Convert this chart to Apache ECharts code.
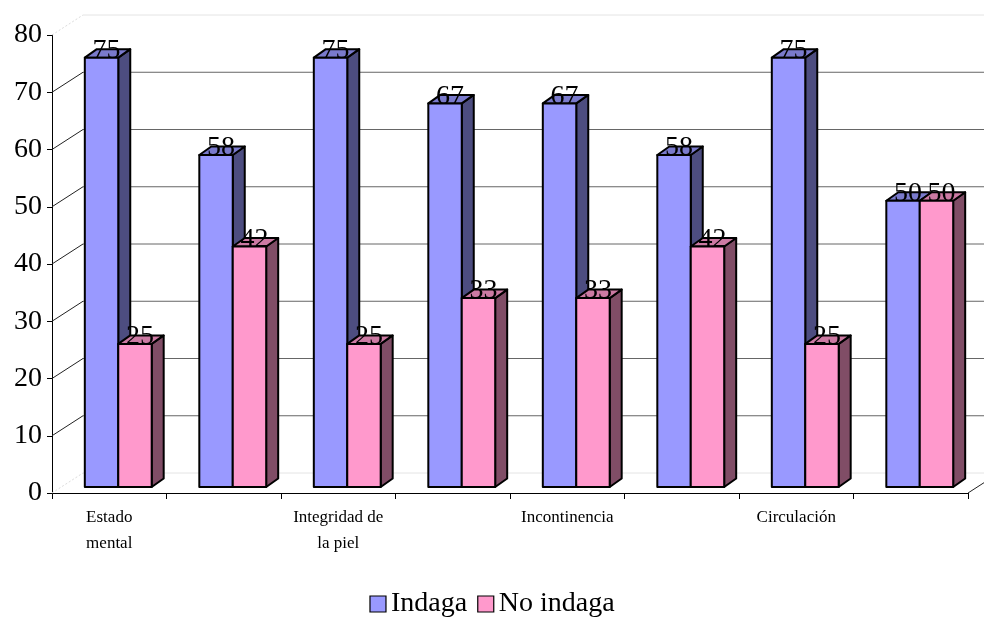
<!DOCTYPE html>
<html>
<head>
<meta charset="utf-8">
<script src="https://cdn.jsdelivr.net/npm/echarts@6/dist/echarts.min.js"></script>
<style>
  html, body { margin: 0; padding: 0; background: #fff; }
  #chart { width: 984px; height: 623px; }
</style>
</head>
<body>
<div id="chart"></div>
<script>
// Categories along the floor (only every other one carries a printed name)
const categories = ['Estado\nmental', '', 'Integridad de\nla piel', '', 'Incontinencia', '', 'Circulación', ''];
const seriesNames = ['Indaga', 'No indaga'];
const indagaValues = [75, 58, 75, 67, 67, 58, 75, 50];
const noIndagaValues = [25, 42, 25, 33, 33, 42, 25, 50];
const yTicks = [0, 10, 20, 30, 40, 50, 60, 70, 80];

const FONT = '"Liberation Serif", "Times New Roman", serif';
const WALL_DX = 31, WALL_DY = -20;    // offset of the back wall from the front plane
const PLANE_DX = 9, PLANE_DY = -6;     // offset of the bar row from the front plane
const DEPTH_DX = 12, DEPTH_DY = -8.5;  // bar depth

const faceColors = [
  { front: '#9999FF', side: '#4D4D80', top: '#7A7ACC' },
  { front: '#FF99CC', side: '#804D66', top: '#CC7AA3' }
];

function wallRender(params, api) {
  const v = api.value(1);
  const cs = params.coordSys;
  const p = api.coord([0, v]);
  const x0 = cs.x, y = p[1];
  const xb = x0 + WALL_DX, yb = y + WALL_DY;
  const faint = (v === 0 || v === yTicks[yTicks.length - 1]);
  const col = faint ? '#e4e4e4' : '#666';
  const children = [
    { type: 'line', shape: { x1: x0, y1: y, x2: xb, y2: yb },
      style: { stroke: faint ? '#dcdcdc' : '#222', lineWidth: 1, lineDash: faint ? [2, 2] : null } },
    { type: 'line', shape: { x1: xb, y1: yb, x2: xb + cs.width + 40, y2: yb },
      style: { stroke: col, lineWidth: 1 } }
  ];
  if (v === 0) {
    // right edge of the floor
    children.push({ type: 'line', shape: { x1: x0 + cs.width, y1: y, x2: x0 + cs.width + WALL_DX, y2: yb },
      style: { stroke: '#222', lineWidth: 1 } });
  }
  return { type: 'group', children: children };
}

function barRender(params, api) {
  const idx = api.value(0);
  const v = api.value(1);
  const s = params.seriesIndex - 1;
  const base = api.coord([idx, 0]);
  const top = api.coord([idx, v]);
  const band = api.size([1, 0])[0];
  const barW = band * 0.292;
  const cx = base[0] + PLANE_DX;
  const x0 = s === 0 ? cx - barW : cx;
  const x1 = x0 + barW;
  const yB = base[1] + PLANE_DY;
  const yT = top[1] + PLANE_DY;
  const c = faceColors[s];
  const edge = { stroke: '#000', lineWidth: 2, lineJoin: 'round' };
  return {
    type: 'group',
    children: [
      { type: 'polygon', shape: { points: [[x1, yB], [x1 + DEPTH_DX, yB + DEPTH_DY], [x1 + DEPTH_DX, yT + DEPTH_DY], [x1, yT]] },
        style: Object.assign({ fill: c.side }, edge) },
      { type: 'polygon', shape: { points: [[x0, yT], [x0 + DEPTH_DX, yT + DEPTH_DY], [x1 + DEPTH_DX, yT + DEPTH_DY], [x1, yT]] },
        style: Object.assign({ fill: c.top }, edge) },
      { type: 'rect', shape: { x: x0, y: yT, width: barW, height: yB - yT },
        style: Object.assign({ fill: c.front }, edge) },
      { type: 'text', z2: 100,
        style: { x: x0 + barW / 2 + 5, y: yT + 7, text: String(v), fill: '#000',
                 font: '28px ' + FONT, align: 'center', verticalAlign: 'bottom' } }
    ]
  };
}

const chart = echarts.init(document.getElementById('chart'), null, { renderer: 'canvas' });
chart.setOption({
  backgroundColor: '#fff',
  animation: false,
  grid: { left: 52, right: 16, top: 35, bottom: 130 },
  legend: {
    data: seriesNames,
    bottom: 0,
    left: 'center',
    icon: 'rect',
    itemWidth: 16,
    itemHeight: 16,
    itemGap: 10,
    textStyle: { fontFamily: FONT, fontSize: 28, color: '#000' },
    itemStyle: { borderColor: '#000', borderWidth: 1.2 }
  },
  xAxis: {
    type: 'category',
    data: categories,
    boundaryGap: true,
    axisLine: { lineStyle: { color: '#000', width: 1 } },
    axisTick: { show: true, length: 6, lineStyle: { color: '#000' } },
    axisLabel: { interval: 0, margin: 12, fontFamily: FONT, fontSize: 17, lineHeight: 26, color: '#000', align: 'center' },
    splitLine: { show: false }
  },
  yAxis: {
    type: 'value',
    min: 0, max: 80, interval: 10,
    axisLine: { show: true, lineStyle: { color: '#000', width: 1 } },
    axisTick: { show: true, length: 5, lineStyle: { color: '#000' } },
    axisLabel: { margin: 10, fontFamily: FONT, fontSize: 28, color: '#000' },
    splitLine: { show: false }
  },
  series: [
    { type: 'custom', name: 'wall', silent: true, z: 1,
      renderItem: wallRender, data: yTicks.map(t => [0, t]) },
    { type: 'custom', name: seriesNames[0], z: 3, renderItem: barRender,
      itemStyle: { color: faceColors[0].front },
      data: indagaValues.map((v, i) => [i, v]) },
    { type: 'custom', name: seriesNames[1], z: 3, renderItem: barRender,
      itemStyle: { color: faceColors[1].front },
      data: noIndagaValues.map((v, i) => [i, v]) }
  ]
});
</script>
</body>
</html>
